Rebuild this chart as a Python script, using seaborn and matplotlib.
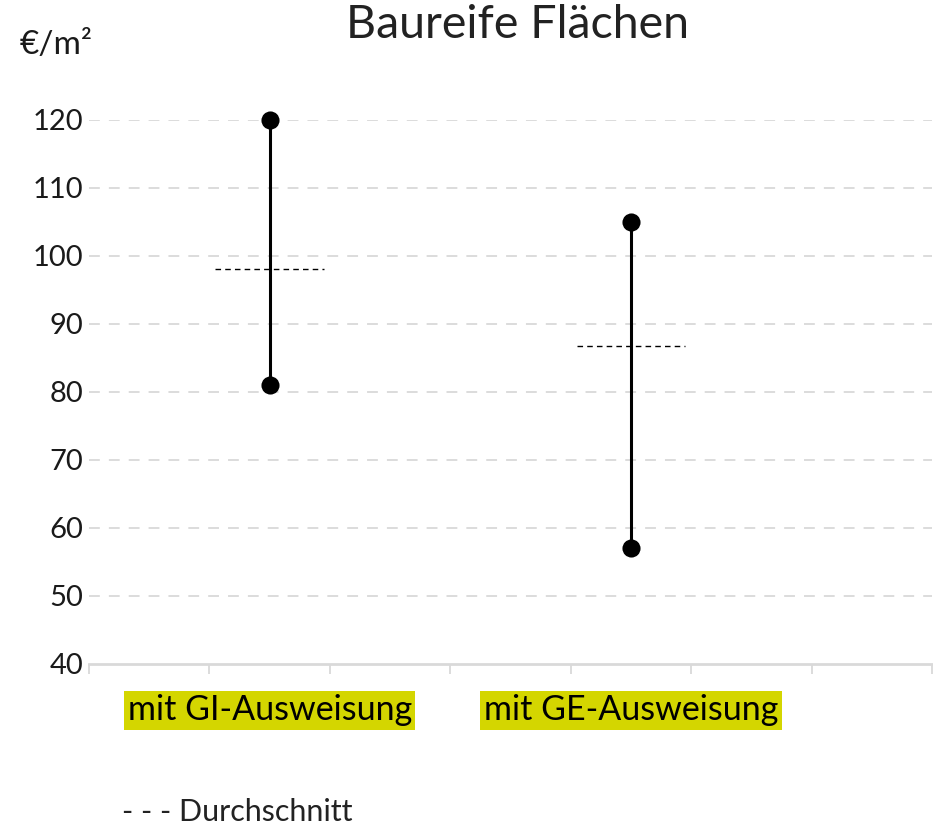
import matplotlib
matplotlib.use("Agg")
import matplotlib.pyplot as plt
import seaborn as sns
import pandas as pd

categories = ["mit GI-Ausweisung", "mit GE-Ausweisung"]
slot_index = [1, 4]
n_slots = 7
min_vals = [81, 57]
max_vals = [120, 105]
avg_vals = [98.1, 86.8]
yticks = [40, 50, 60, 70, 80, 90, 100, 110, 120]

title = "Baureife Flächen"
unit = "€/m²"
legend_text = "- - - Durchschnitt"

sns.set_theme(style="white")
plt.rcParams["font.family"] = ["Lato", "DejaVu Sans"]

fig = plt.figure(figsize=(9.33, 8.27), dpi=100)
ax = fig.add_axes([89/933, 1-664/827, (932-89)/933, (664-120)/827])

df = pd.DataFrame({
    "x": slot_index * 2,
    "y": min_vals + max_vals,
})

grid_c = "#d9d9d9"
for v in yticks[1:]:
    ax.axhline(v, color=grid_c, lw=1.3, dashes=(6, 5), zorder=0)

ax.vlines(slot_index, min_vals, max_vals, color="black", lw=2.2, zorder=2)
sns.scatterplot(data=df, x="x", y="y", ax=ax, color="black", s=170,
                edgecolor="black", linewidth=0, zorder=3, clip_on=False, legend=False)
for xi, a in zip(slot_index, avg_vals):
    ax.hlines(a, xi - 0.45, xi + 0.45, color="black", lw=1.0,
              linestyles=(0, (4, 3)), zorder=2)

ax.set_xlim(-0.5, n_slots - 0.5)
ax.set_ylim(40, 120)
ax.set_yticks(yticks)
ax.set_yticklabels([str(v) for v in yticks], fontsize=21, color="#1a1a1a")
ax.tick_params(axis="y", length=0, pad=4)
ax.set_xticks([i - 0.5 for i in range(n_slots + 1)])
ax.set_xticklabels([])
ax.tick_params(axis="x", length=7, width=1.3, color=grid_c, direction="out", bottom=True)
ax.set_xlabel("")
ax.set_ylabel("")
for s in ["top", "right", "left"]:
    ax.spines[s].set_visible(False)
ax.spines["bottom"].set_color(grid_c)
ax.spines["bottom"].set_linewidth(2)

for xi, lab in zip(slot_index, categories):
    ax.text(xi, -0.085, lab, transform=ax.get_xaxis_transform(), ha="center", va="center",
            fontsize=24.5, color="black",
            bbox=dict(boxstyle="square,pad=0.1", fc="#d4d600", ec="none"))

fig.text(518/933, 1-25/827, title, ha="center", va="center", fontsize=33.5, color="#222222")
fig.text(20/933, 1-45/827, unit, ha="left", va="center", fontsize=24, color="#1a1a1a")
fig.text(122/933, 1-812/827, legend_text, ha="left", va="center", fontsize=22,
         color="#222222")

fig.savefig("out.png", dpi=100)
